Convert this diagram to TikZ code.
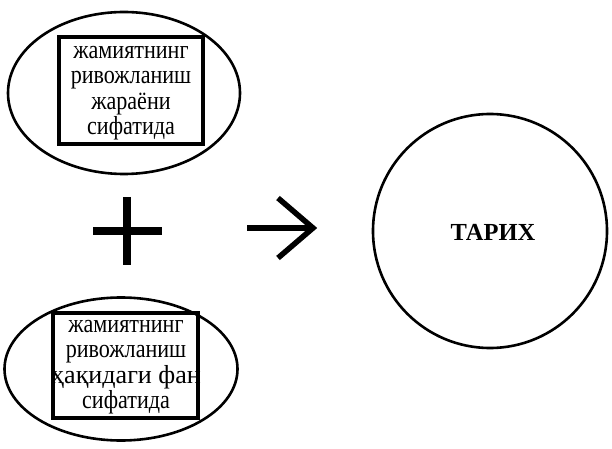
\documentclass[tikz,border=0pt]{standalone}
\usepackage{fontspec}
\setmainfont{Liberation Serif}
\newfontfamily\boxfont{Liberation Serif}[FakeStretch=0.85]
\usetikzlibrary{shapes.geometric}
\begin{document}
\begin{tikzpicture}[x=1bp,y=-1bp,
  oval/.style={draw,ellipse,line width=2.6bp,inner sep=0pt},
  tbox/.style={draw,rectangle,line width=3.5bp,inner sep=0pt},
  btext/.style={align=center,inner sep=0pt,font=\boxfont\fontsize{26bp}{25.5bp}\selectfont},
  bigsym/.style={line width=8.5bp},
  arr/.style={line width=5.5bp,miter limit=10}]
\useasboundingbox[fill=white] (0,0) rectangle (612,449);
% top ellipse
\node[oval,minimum width=232bp,minimum height=162bp] (e1) at (124,93) {};
\node[tbox,minimum width=144bp,minimum height=107bp] (r1) at (131,90.5) {};
\node[btext] (t1) at (131,93) {жамиятнинг\\ривожланиш\\жараёни\\сифатида};
% bottom ellipse
\node[oval,minimum width=233bp,minimum height=143bp] (e2) at (121,369) {};
\node[tbox,minimum width=145bp,minimum height=105bp] (r2) at (125.5,365.5) {};
\node[btext] (t2) at (126,367) {жамиятнинг\\ривожланиш\\\scalebox{1.18}[1]{ҳақидаги фан}\\сифатида};
% circle
\node[draw,circle,line width=2.6bp,minimum size=234bp,inner sep=0pt] (c) at (490,231) {};
\node[font=\fontsize{24.5bp}{26bp}\selectfont\bfseries] (tarix) at (493,232) {ТАРИХ};
% plus
\coordinate (pl) at (93,231); \coordinate (pr) at (162,231);
\coordinate (pt) at (127,197); \coordinate (pb) at (127,265);
\draw[bigsym] (pl) -- (pr) (pt) -- (pb);
% arrow
\coordinate (as) at (247,228); \coordinate (ae) at (313,228);
\coordinate (au) at (278,198); \coordinate (ad) at (278,258);
\draw[arr] (as) -- (ae);
\draw[arr] (au) -- (ae) -- (ad);
\end{tikzpicture}
\end{document}
